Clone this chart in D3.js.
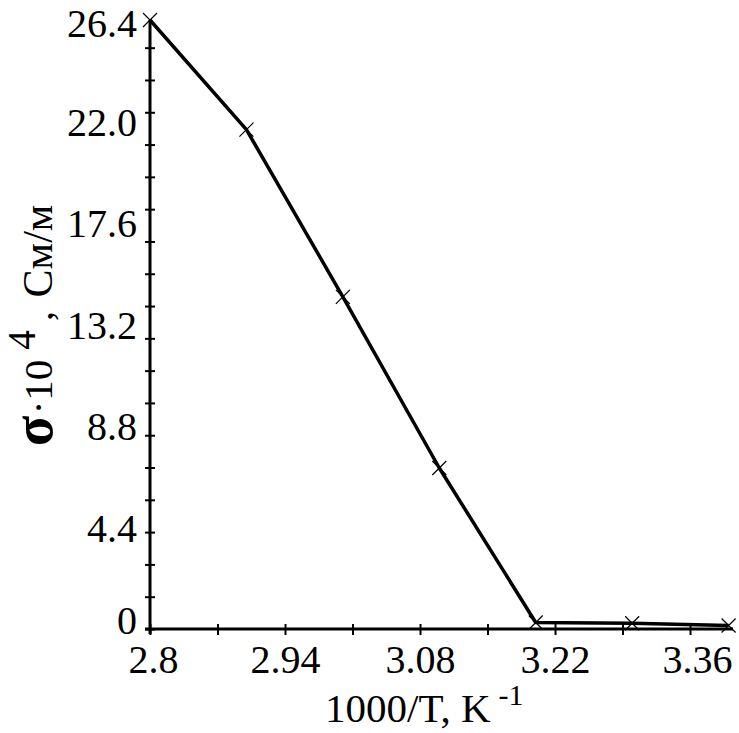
<!DOCTYPE html>
<html>
<head>
<meta charset="utf-8">
<script src="https://cdn.jsdelivr.net/npm/d3@7"></script>
<style>
  html, body { margin: 0; padding: 0; background: #fff; }
  svg { display: block; }
  text { font-family: "Liberation Serif", "Times New Roman", serif; fill: #000; }
</style>
</head>
<body>
<svg id="chart" width="739" height="733"></svg>
<script>
// ---- data ----
const xValues = [2.8, 2.9, 3.0, 3.1, 3.2, 3.3, 3.4];
const sigmaValues = [26.4, 21.65, 14.4, 6.98, 0.28, 0.25, 0.15];
const xTickLabels = [2.8, 2.94, 3.08, 3.22, 3.36];
const yTickLabels = [0, 4.4, 8.8, 13.2, 17.6, 22.0, 26.4];
const xMinorStep = 0.07;
const yMinorStep = 1.4;

const svg = d3.select("#chart");
const x = d3.scaleLinear().domain([2.8, 3.4]).range([150, 728.6]);
const y = d3.scaleLinear().domain([0, 26.4]).range([629, 20]);

const X0 = x(2.8), Y0 = y(0);

// minor ticks (crossing)
const xMinor = d3.range(2.8, 3.41, xMinorStep);
const yMinor = d3.range(0, 26.3, yMinorStep);

const gx = svg.append("g").attr("transform", `translate(0,${Y0})`)
  .call(d3.axisBottom(x).tickValues(xMinor).tickSize(6).tickFormat(""));
gx.select(".domain").remove();
gx.selectAll(".tick line").attr("y1", -5).attr("y2", 6).attr("stroke", "#000").attr("stroke-width", 2);

const gy = svg.append("g").attr("transform", `translate(${X0},0)`)
  .call(d3.axisLeft(y).tickValues(yMinor).tickSize(6).tickFormat(""));
gy.select(".domain").remove();
gy.selectAll(".tick line").attr("x1", -5).attr("x2", 5).attr("stroke", "#000").attr("stroke-width", 2);

// axis lines
svg.append("line").attr("x1", X0 - 5).attr("x2", 733).attr("y1", Y0).attr("y2", Y0)
  .attr("stroke", "#000").attr("stroke-width", 3);
svg.append("line").attr("x1", X0).attr("x2", X0).attr("y1", y(26.4)).attr("y2", Y0 + 5)
  .attr("stroke", "#000").attr("stroke-width", 3);

// tick labels
const gxl = svg.append("g").attr("transform", `translate(0,${Y0})`)
  .call(d3.axisBottom(x).tickValues(xTickLabels).tickSize(0).tickPadding(0)
    .tickFormat(d => String(d)));
gxl.select(".domain").remove();
gxl.selectAll(".tick text").attr("font-size", 40).attr("font-family", "Liberation Serif")
  .attr("dy", null).attr("y", 44)
  .attr("dx", d => d === 3.36 ? 7 : (d === 2.8 ? 3 : 0));

const gyl = svg.append("g").attr("transform", `translate(${X0},0)`)
  .call(d3.axisLeft(y).tickValues(yTickLabels).tickSize(0).tickPadding(13)
    .tickFormat(d => d === 0 ? "0" : d3.format(".1f")(d)));
gyl.select(".domain").remove();
gyl.selectAll(".tick text").attr("font-size", 40).attr("font-family", "Liberation Serif")
  .attr("dy", d => d === 0 ? "0.12em" : (d === 26.4 ? "0.4em" : "0.34em"));

// data line
const pts = xValues.map((v, i) => [v, sigmaValues[i]]);
svg.append("path").datum(pts)
  .attr("d", d3.line().x(d => x(d[0])).y(d => y(d[1])))
  .attr("fill", "none").attr("stroke", "#000").attr("stroke-width", 3.5)
  .attr("stroke-linejoin", "round");

// cross markers
const m = 7;
const mk = svg.append("g");
pts.forEach(d => {
  const cx = x(d[0]), cy = y(d[1]);
  mk.append("path")
    .attr("d", `M${cx - m},${cy - m}L${cx + m},${cy + m}M${cx - m},${cy + m}L${cx + m},${cy - m}`)
    .attr("stroke", "#000").attr("stroke-width", 1.2).attr("fill", "none");
});

// x axis title
const xt = svg.append("text").attr("x", 325).attr("y", 722).attr("font-size", 41);
xt.append("tspan").text("1000/T, K");
xt.append("tspan").attr("font-size", 30).attr("dx", 8).attr("dy", -17).text("-1");

// y axis title (rotated pieces)
function rot(cx, cy, txt, size, weight) {
  svg.append("text")
    .attr("transform", `translate(${cx},${cy}) rotate(-90)`)
    .attr("text-anchor", "middle")
    .attr("font-size", size)
    .attr("font-weight", weight || "normal")
    .text(txt);
}
rot(52, 431, "σ", 56, "bold");
rot(52, 387, "·10", 41);
rot(35, 340, "4", 39);
rot(52, 316, ",", 40);
rot(52, 251, "См/м", 42);
</script>
</body>
</html>
